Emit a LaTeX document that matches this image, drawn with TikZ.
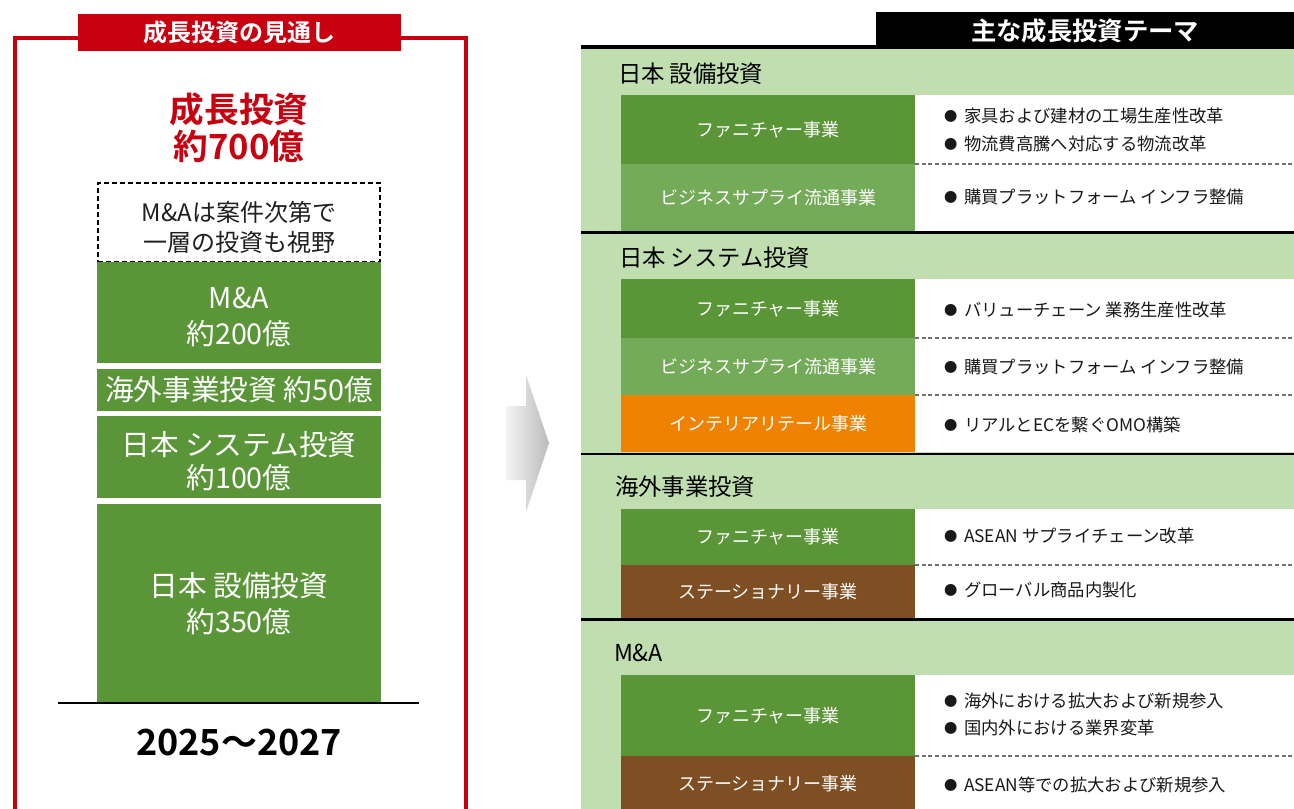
\documentclass[tikz,border=0pt]{standalone}
\usepackage{fontspec}
\setmainfont{Noto Sans CJK JP}[BoldFont={Noto Sans CJK JP Bold}]
\definecolor{redc}{HTML}{C8000F}
\definecolor{dgreen}{HTML}{5A9637}
\definecolor{mgreen}{HTML}{74AB58}
\definecolor{lgreen}{HTML}{C0DEB0}
\definecolor{orangec}{HTML}{EF8200}
\definecolor{brownc}{HTML}{7E4F22}
\definecolor{arrowl}{HTML}{F4F4F4}
\definecolor{arrowr}{HTML}{BBBBBB}
\definecolor{dashc}{HTML}{707070}
\newcommand{\bdot}{{\fontsize{10}{12}\selectfont\raisebox{0.8pt}{●}}\hspace{5pt}}
\begin{document}
\begin{tikzpicture}[x=0.75pt,y=-0.75pt,
  every node/.style={inner sep=0pt, outer sep=0pt},
  bigbox/.style={fill=dgreen, text=white, minimum width=213pt, align=center,
    font=\fontsize{21.5}{26.5}\selectfont},
  catbox/.style={text=white, minimum width=220.5pt, align=center,
    font=\fontsize{13.5}{16}\selectfont},
  bullet/.style={anchor=west, font=\fontsize{13}{16}\selectfont, text=black!90},
  sectitle/.style={anchor=west, font=\fontsize{17.5}{20}\selectfont, text=black},
  dashsep/.style={draw=dashc, line width=0.8pt, dash pattern=on 3pt off 2pt},
  secsep/.style={line width=2.2pt, draw=black}
]
\useasboundingbox (0,0) rectangle (1294,809);
\clip (0,0) rectangle (1294,809);
\fill[white] (0,0) rectangle (1294,809);

% ===== Left panel =====
\draw[redc, line width=3pt] (15,815) -- (15,38) -- (466,38) -- (466,815);
\node[fill=redc, text=white, minimum width=242.25pt, minimum height=27.75pt,
  font=\bfseries\fontsize{18}{20}\selectfont] (ltitle) at (239.5,32.5) {成長投資の見通し};
\node[text=redc, align=center, font=\bfseries\fontsize{26}{28}\selectfont] (total) at (239,128) {成長投資\\約700億};
\node[draw=black, line width=1.1pt, dash pattern=on 3.5pt off 2.5pt, minimum width=211.5pt,
  minimum height=59.25pt] (mabox) at (239,222.5) {};
\node[align=center, text=black!88, font=\fontsize{18}{22.5}\selectfont] (matext) at (239,227) {M\&Aは案件次第で\\一層の投資も視野};
\node[bigbox, minimum height=75.75pt] (ma) at (239,312.5) {};
\node[align=center, text=white, font=\fontsize{21.5}{27.5}\selectfont] (matx) at (239,317) {M\&A\\約200億};
\node[bigbox, minimum height=31.5pt] (kaigai) at (239,390) {海外事業投資 約50億};
\node[bigbox, minimum height=61.5pt] (system) at (239,457) {};
\node[align=center, text=white, font=\fontsize{21.5}{25}\selectfont] (systx) at (239,461) {日本 システム投資\\約100億};
\node[bigbox, minimum height=149.25pt] (setsubi) at (239,603.5) {日本 設備投資\\約350億};
\draw[line width=2.2pt] (58,703) coordinate (bl) -- (419,703) coordinate (br);
\node[font=\bfseries\fontsize{27}{30}\selectfont] (years) at (239,743) {2025〜2027};

% ===== Arrow =====
\shade[left color=arrowl, right color=arrowr] (506,406) -- (526,406) -- (526,375) -- (549,443)
  -- (526,512) -- (526,480) -- (506,480) -- cycle;

% ===== Right panel =====
\fill[lgreen] (581,49) rectangle (1294,812);
\fill[black] (581,45) rectangle (876,49);
\node[fill=black, text=white, minimum width=313.5pt, minimum height=27.75pt,
  font=\bfseries\fontsize{19}{21}\selectfont] (rtitle) at (1085,30.5) {主な成長投資テーマ};

% white areas
\fill[white] (915,95) rectangle (1294,231);
\fill[white] (915,279) rectangle (1294,452);
\fill[white] (915,509) rectangle (1294,618);
\fill[white] (915,675) rectangle (1294,812);

% section separators
\draw[secsep] (581,232.5) -- (1294,232.5);
\draw[secsep] (581,454) -- (1294,454);
\draw[secsep] (581,619.5) -- (1294,619.5);

% Section 1
\node[sectitle] (s1) at (618,74) {日本 設備投資};
\node[catbox, fill=dgreen, minimum height=51.75pt] (s1a) at (768,129.5) {ファニチャー事業};
\node[catbox, fill=mgreen, minimum height=50.25pt] (s1b) at (768,197.5) {ビジネスサプライ流通事業};
\draw[dashsep] (915,164) -- (1294,164);
\node[bullet] (b11) at (944,116) {\bdot 家具および建材の工場生産性改革};
\node[bullet] (b12) at (944,144) {\bdot 物流費高騰へ対応する物流改革};
\node[bullet] (b13) at (944,197) {\bdot 購買プラットフォーム インフラ整備};

% Section 2
\node[sectitle] (s2) at (619,258) {日本 システム投資};
\node[catbox, fill=dgreen, minimum height=44.25pt] (s2a) at (768,308.5) {ファニチャー事業};
\node[catbox, fill=mgreen, minimum height=42.75pt] (s2b) at (768,366.5) {ビジネスサプライ流通事業};
\node[catbox, fill=orangec, minimum height=42.75pt] (s2c) at (768,423.5) {インテリアリテール事業};
\draw[dashsep] (915,338) -- (1294,338);
\draw[dashsep] (915,395) -- (1294,395);
\node[bullet] (b21) at (944,310) {\bdot バリューチェーン 業務生産性改革};
\node[bullet] (b22) at (944,367) {\bdot 購買プラットフォーム インフラ整備};
\node[bullet] (b23) at (944,425) {\bdot リアルとECを繋ぐOMO構築};

% Section 3
\node[sectitle] (s3) at (615,487) {海外事業投資};
\node[catbox, fill=dgreen, minimum height=42pt] (s3a) at (768,537) {ファニチャー事業};
\node[catbox, fill=brownc, minimum height=39.75pt] (s3b) at (768,591.5) {ステーショナリー事業};
\draw[dashsep] (915,565) -- (1294,565);
\node[bullet] (b31) at (944,536) {\bdot ASEAN サプライチェーン改革};
\node[bullet] (b32) at (944,590) {\bdot グローバル商品内製化};

% Section 4
\node[sectitle] (s4) at (614,653) {M\&A};
\node[catbox, fill=dgreen, minimum height=60.75pt] (s4a) at (768,715.5) {ファニチャー事業};
\node[catbox, fill=brownc, minimum height=42pt] (s4b) at (768,784) {ステーショナリー事業};
\draw[dashsep] (915,756) -- (1294,756);
\node[bullet] (b41) at (944,701) {\bdot 海外における拡大および新規参入};
\node[bullet] (b42) at (944,728) {\bdot 国内外における業界変革};
\node[bullet] (b43) at (944,785) {\bdot ASEAN等での拡大および新規参入};
\end{tikzpicture}
\end{document}
